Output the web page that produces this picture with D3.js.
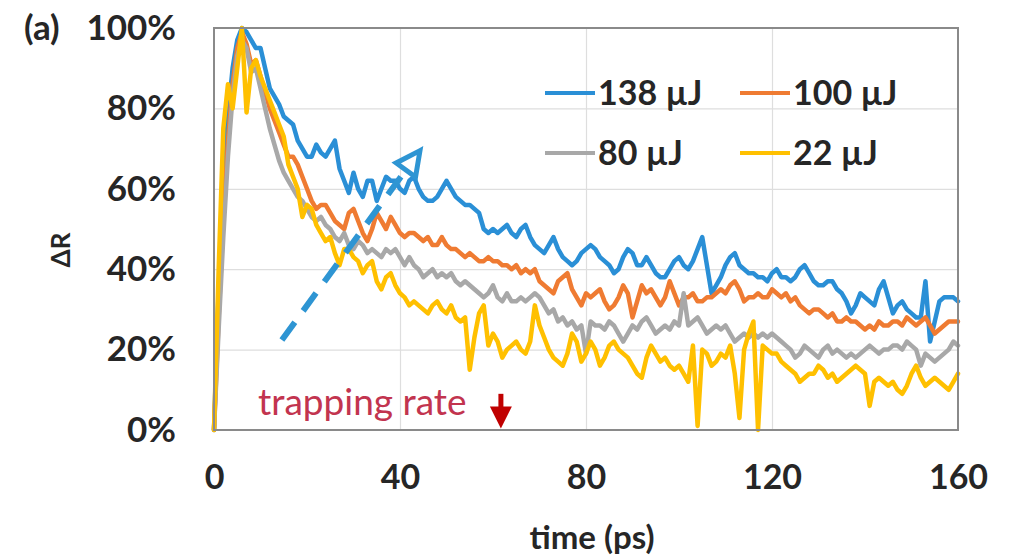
<!DOCTYPE html>
<html>
<head>
<meta charset="utf-8">
<script src="https://cdn.jsdelivr.net/npm/d3@7"></script>
<style>
  html, body { margin: 0; padding: 0; background: #fff; }
  svg { display: block; font-family: Lato, "Open Sans", sans-serif; }
</style>
</head>
<body>
<svg id="chart" width="1015" height="559"></svg>
<script>
// Transient reflectivity ΔR (% of peak) vs delay time for four pump energies
const timePs = d3.range(0, 161, 1);

const series138 = [
  0, 35, 60, 78, 90, 97, 100, 99, 97, 95,
  95, 90, 85, 83, 81, 78, 77, 76, 72, 70,
  68, 68, 71, 69, 68, 70, 72, 65, 62, 59,
  64, 60, 58, 62, 62, 57, 60, 63, 62, 62,
  60, 59, 62, 63, 60, 58, 57, 57, 58, 60,
  62, 60, 58, 57, 56, 56, 55, 54, 50, 49,
  50, 49, 50, 51, 49, 48, 50, 51, 48, 46,
  45, 44, 46, 48, 45, 43, 42, 41, 42, 44,
  45, 46, 45, 43, 42, 41, 39, 40, 43, 45,
  44, 41, 41, 43, 41, 39, 38, 38, 40, 42,
  43, 41, 40, 42, 45, 48, 41, 34, 36, 38,
  41, 43, 44, 41, 40, 39, 39, 38, 38, 37,
  39, 40, 38, 38, 37, 38, 40, 41, 39, 37,
  36, 36, 37, 37, 35, 34, 32, 29, 31, 34,
  33, 32, 31, 35, 37, 33, 29, 31, 32, 30,
  29, 28, 28, 37, 22, 27, 32, 33, 33, 33, 32
];

const series100 = [
  0, 28, 52, 72, 86, 95, 99, 96, 91, 92,
  88, 84, 80, 77, 74, 71, 68, 68, 66, 63,
  60, 57, 55, 56, 56, 54, 52, 51, 50, 54,
  55, 52, 49, 47, 50, 54, 52, 50, 53, 51,
  49, 48, 49, 49, 48, 47, 48, 46, 46, 48,
  46, 45, 45, 44, 43, 44, 43, 42, 42, 43,
  42, 42, 41, 41, 40, 41, 39, 40, 39, 40,
  37, 36, 35, 34, 37, 38, 39, 35, 33, 31,
  34, 33, 34, 35, 32, 30, 31, 33, 36, 34,
  28, 32, 36, 34, 35, 33, 31, 33, 37, 34,
  31, 33, 33, 34, 32, 32, 33, 33, 34, 35,
  34, 36, 37, 35, 32, 33, 33, 34, 33, 33,
  35, 34, 33, 34, 32, 33, 31, 30, 29, 30,
  30, 29, 28, 29, 27, 27, 28, 27, 27, 26,
  25, 26, 25, 27, 26, 26, 27, 27, 26, 28,
  27, 26, 27, 28, 26, 24, 25, 26, 27, 27, 27
];

const series80 = [
  0, 25, 48, 68, 83, 93, 97, 95, 89, 90,
  85, 80, 75, 71, 67, 64, 62, 60, 58, 57,
  55, 53, 52, 53, 51, 50, 48, 47, 49, 46,
  45, 47, 46, 44, 45, 44, 43, 45, 44, 45,
  43, 41, 43, 41, 40, 38, 39, 40, 38, 39,
  38, 39, 37, 36, 37, 36, 35, 34, 33, 34,
  36, 33, 32, 34, 32, 32, 33, 32, 33, 34,
  33, 31, 29, 30, 27, 28, 26, 27, 25, 26,
  19, 27, 26, 26, 25, 27, 26, 24, 22, 24,
  26, 25, 27, 28, 26, 24, 25, 26, 25, 27,
  26, 34, 26, 27, 28, 26, 24, 25, 26, 25,
  26, 24, 22, 23, 24, 23, 24, 23, 24, 23,
  24, 23, 22, 21, 20, 18, 19, 21, 20, 19,
  18, 20, 21, 19, 20, 19, 18, 19, 18, 19,
  20, 21, 20, 19, 20, 20, 21, 21, 20, 22,
  21, 20, 16, 19, 18, 17, 18, 19, 20, 22, 21
];

const series22 = [
  0, 40, 75, 86, 80, 90, 100, 79, 90, 92,
  88, 85, 82, 79, 76, 73, 66, 63, 60, 53,
  56, 55, 51, 49, 47, 48, 44, 41, 45, 45,
  43, 42, 39, 41, 42, 37, 35, 38, 39, 36,
  34, 33, 31, 32, 31, 30, 29, 31, 32, 30,
  29, 31, 28, 27, 28, 15, 23, 29, 31, 21,
  24, 22, 18, 20, 21, 22, 20, 19, 22, 31,
  26, 23, 20, 18, 17, 16, 19, 24, 22, 17,
  19, 22, 20, 16, 18, 21, 22, 20, 19, 18,
  16, 14, 13, 18, 21, 19, 17, 18, 16, 15,
  16, 14, 12, 21, 1, 20, 19, 16, 17, 19,
  18, 21, 14, 3, 20, 24, 27, 0, 21, 20,
  19, 19, 17, 16, 15, 14, 12, 13, 14, 14,
  16, 15, 13, 14, 12, 13, 14, 15, 16, 15,
  14, 6, 12, 13, 12, 11, 12, 10, 9, 11,
  14, 16, 13, 11, 12, 13, 12, 11, 10, 12, 14
];

const seriesNames = ["138 µJ", "100 µJ", "80 µJ", "22 µJ"];
const seriesValues = [series138, series100, series80, series22];
const seriesColors = ["#2a8fd6", "#ef7b32", "#a8a8a8", "#ffc000"];

const xTicks = [0, 40, 80, 120, 160];
const yTicks = [0, 20, 40, 60, 80, 100];

// Annotations in data units: [time, %]
const dashedArrowFrom = [14.6, 22.4];
const dashedArrowTo = [44.3, 69.5];
const trapArrowTime = 61.7;
const trapArrowRange = [9.0, 0.4];

const svg = d3.select("#chart");
const plot = { left: 214, right: 958, top: 28, bottom: 430 };
const labelColor = "#262626";

const x = d3.scaleLinear().domain([0, 160]).range([plot.left, plot.right]);
const y = d3.scaleLinear().domain([0, 100]).range([plot.bottom, plot.top]);

// Gridlines
svg.append("g")
  .attr("transform", `translate(0,${plot.bottom})`)
  .call(d3.axisBottom(x).tickValues(xTicks.slice(1, -1)).tickSize(-(plot.bottom - plot.top)).tickFormat(""))
  .call(g => g.select(".domain").remove())
  .call(g => g.selectAll("line").attr("stroke", "#dedede").attr("stroke-width", 1.2));
svg.append("g")
  .attr("transform", `translate(${plot.left},0)`)
  .call(d3.axisLeft(y).tickValues(yTicks.slice(1, -1)).tickSize(-(plot.right - plot.left)).tickFormat(""))
  .call(g => g.select(".domain").remove())
  .call(g => g.selectAll("line").attr("stroke", "#dedede").attr("stroke-width", 1.2));

// Data lines
const line = d3.line()
  .x((d, i) => x(timePs[i]))
  .y(d => y(d));

svg.append("g")
  .selectAll("path")
  .data(seriesValues)
  .join("path")
  .attr("d", d => line(d))
  .attr("fill", "none")
  .attr("stroke", (d, i) => seriesColors[i])
  .attr("stroke-width", 4.5)
  .attr("stroke-linejoin", "round")
  .attr("stroke-linecap", "round");

// Plot frame
svg.append("rect")
  .attr("x", plot.left).attr("y", plot.top)
  .attr("width", plot.right - plot.left).attr("height", plot.bottom - plot.top)
  .attr("fill", "none").attr("stroke", "#8a8a8a").attr("stroke-width", 2);

// Axis tick labels
svg.append("g")
  .attr("transform", `translate(${plot.left - 38},0)`)
  .call(d3.axisLeft(y).tickValues(yTicks).tickSize(0).tickPadding(0).tickFormat(d => d + "%"))
  .call(g => g.select(".domain").remove())
  .call(g => g.selectAll("text")
    .attr("font-family", "Lato, sans-serif").attr("font-weight", "bold")
    .attr("font-size", 35).attr("fill", labelColor));

svg.append("g")
  .attr("transform", `translate(0,${plot.bottom + 35})`)
  .call(d3.axisBottom(x).tickValues(xTicks).tickSize(0).tickPadding(0))
  .call(g => g.select(".domain").remove())
  .call(g => g.selectAll("text")
    .attr("font-family", "Lato, sans-serif").attr("font-weight", "bold")
    .attr("font-size", 34).attr("fill", labelColor));

// Axis titles
svg.append("text")
  .attr("x", 592).attr("y", 549)
  .attr("text-anchor", "middle")
  .attr("font-weight", "bold").attr("font-size", 33).attr("fill", labelColor)
  .text("time (ps)");

svg.append("text")
  .attr("transform", "translate(70,250) rotate(-90)")
  .attr("text-anchor", "middle")
  .attr("font-weight", "bold").attr("font-size", 26).attr("fill", labelColor)
  .text("ΔR");

svg.append("text")
  .attr("x", 24).attr("y", 40)
  .attr("font-weight", "bold").attr("font-size", 35).attr("fill", labelColor)
  .text("(a)");

// Legend (2 x 2)
const legendPos = [[545, 93], [740, 93], [545, 153], [740, 153]];
const legend = svg.append("g")
  .selectAll("g")
  .data(seriesNames)
  .join("g")
  .attr("transform", (d, i) => `translate(${legendPos[i][0]},${legendPos[i][1]})`);
legend.append("line")
  .attr("x1", 0).attr("x2", 50).attr("y1", 0).attr("y2", 0)
  .attr("stroke", (d, i) => seriesColors[i]).attr("stroke-width", 4);
legend.append("text")
  .attr("x", 53).attr("y", 0).attr("dy", "0.35em")
  .attr("font-weight", "bold").attr("font-size", 34).attr("fill", labelColor)
  .text(d => d);

// Dashed trend arrow
const ax0 = x(dashedArrowFrom[0]), ay0 = y(dashedArrowFrom[1]);
const ax1 = x(dashedArrowTo[0]), ay1 = y(dashedArrowTo[1]);
const ang = Math.atan2(ay1 - ay0, ax1 - ax0);
const headLen = 24, headHalf = 12;
const bx = ax1 - headLen * Math.cos(ang), by = ay1 - headLen * Math.sin(ang);
svg.append("line")
  .attr("x1", ax0).attr("y1", ay0).attr("x2", bx).attr("y2", by)
  .attr("stroke", "#2e95d3").attr("stroke-width", 6)
  .attr("stroke-dasharray", "22,14");
svg.append("path")
  .attr("d", `M${ax1},${ay1}L${bx + headHalf * Math.sin(ang)},${by - headHalf * Math.cos(ang)}L${bx - headHalf * Math.sin(ang)},${by + headHalf * Math.cos(ang)}Z`)
  .attr("fill", "none").attr("stroke", "#2e95d3").attr("stroke-width", 5)
  .attr("stroke-linejoin", "miter");

// Trapping-rate marker
const tx = x(trapArrowTime);
const tipY = y(trapArrowRange[1]);
svg.append("line")
  .attr("x1", tx).attr("x2", tx)
  .attr("y1", y(trapArrowRange[0])).attr("y2", tipY - 18)
  .attr("stroke", "#c00000").attr("stroke-width", 5);
svg.append("path")
  .attr("d", `M${tx - 11},${tipY - 22}L${tx + 11},${tipY - 22}L${tx},${tipY}Z`)
  .attr("fill", "#c00000");
svg.append("text")
  .attr("x", 258).attr("y", 415)
  .attr("font-size", 37).attr("fill", "#c2344f")
  .text("trapping rate");
</script>
</body>
</html>
